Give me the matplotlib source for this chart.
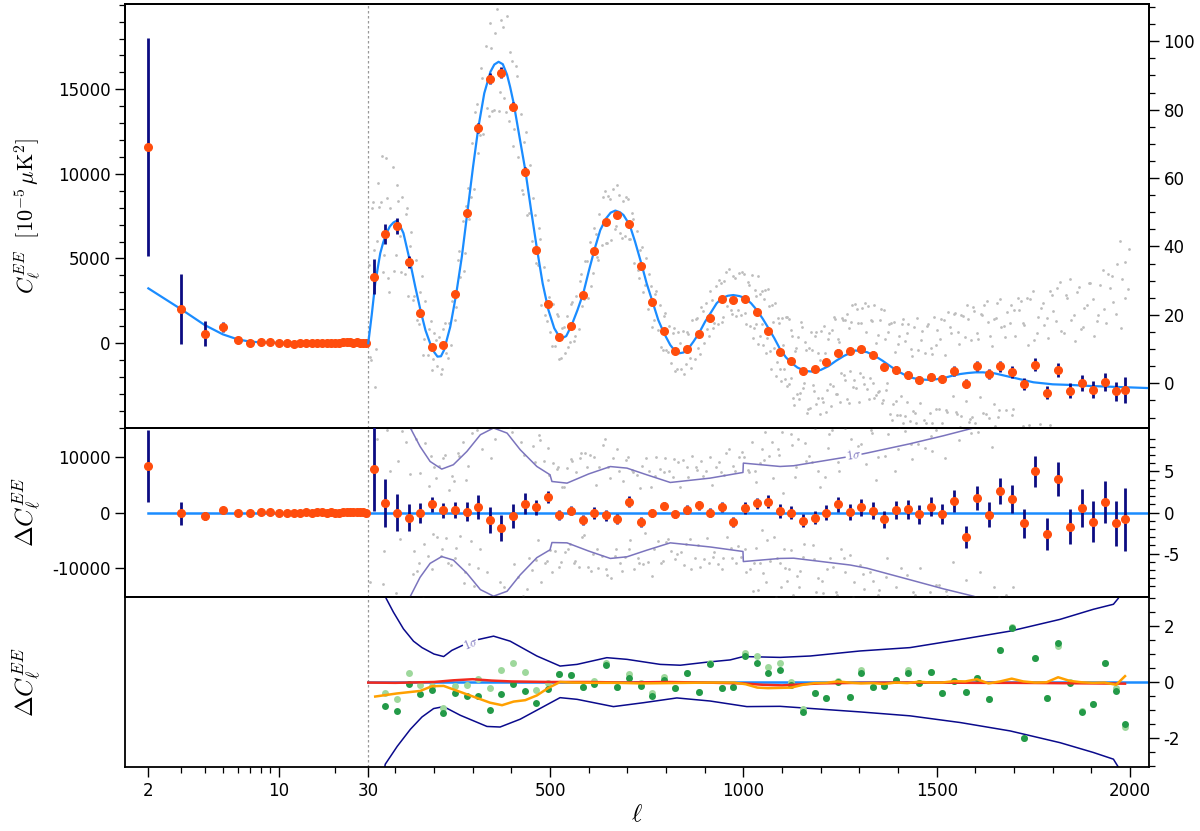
import numpy as np
import matplotlib
matplotlib.use("Agg")
import matplotlib.pyplot as plt
from matplotlib.ticker import FixedLocator, MultipleLocator

plt.rcParams["mathtext.fontset"] = "cm"
plt.rcParams["font.family"] = "DejaVu Sans"
plt.rcParams["font.size"] = 12
plt.rcParams["axes.unicode_minus"] = False

# ---------------- data ----------------
# low multipoles, 2 <= ell < 30, C_ell in 1e-5 muK^2
ell_low = [2, 3, 4, 5, 6, 7, 8, 9, 10, 11, 12, 13, 14, 15, 16, 17, 18, 19,
           20, 21, 22, 23, 24, 25, 26, 27, 28, 29]
cl_low = [11589, 1990, 550, 946, 160, 20, 80, 80, -10, -20, -40, 0, 20, -10,
          10, 20, 0, 20, -20, -20, 40, 30, 30, 20, 30, 20, 10, 0]
cl_low_err = [6430, 2070, 740, 325, 60, 60, 60, 60, 60, 60, 60, 60, 60, 60,
              60, 60, 60, 60, 60, 60, 60, 60, 60, 60, 60, 60, 60, 60]
dcl_low = [8390, -110, -589, 420, -57, -59, 40, 55, -25, -30, -50, -5, 15,
           -15, 5, 15, -5, 15, -25, -25, 35, 25, 25, 15, 25, 15, 5, -5]

mod_low_ell = [2, 3, 4, 5, 6, 7, 8, 9, 10, 12, 15, 20, 25, 30]
mod_low_val = [3230, 1990, 1064, 513, 217, 79, 40, 25, 15, 8, 4, 2, 1, 0]

# high multipoles, binned
bin_ell = [44.5, 74.5, 104.5, 134.5, 164.5, 194.5, 224.5, 254.5, 284.5, 314.5,
           344.5, 374.5, 404.5, 434.5, 464.5, 494.5, 524.5, 554.5, 584.5, 614.5,
           644.5, 674.5, 704.5, 734.5, 764.5, 794.5, 824.5, 854.5, 884.5, 914.5,
           944.5, 974.5, 1004.5, 1034.5, 1064.5, 1094.5, 1124.5, 1154.5, 1184.5,
           1214.5, 1244.5, 1274.5, 1304.5, 1334.5, 1364.5, 1394.5, 1424.5,
           1454.5, 1484.5, 1514.5, 1544.5, 1574.5, 1604.5, 1634.5, 1664.5,
           1694.5, 1724.5, 1754.5, 1784.5, 1814.5, 1844.5, 1874.5, 1904.5,
           1934.5, 1964.5, 1987]
bin_val = [31.1, 43.6, 46.0, 35.5, 20.6, 10.6, 11.2, 26.1, 49.7, 74.6,
           89.1, 90.8, 80.9, 61.9, 39.1, 23.2, 13.6, 16.8, 25.7, 38.7,
           47.3, 49.2, 46.6, 34.3, 23.9, 15.4, 9.4, 10.0, 14.5, 19.2,
           24.6, 24.4, 24.6, 20.9, 15.4, 9.1, 6.6, 3.6, 4.1, 6.2,
           9.0, 9.4, 9.9, 8.4, 4.9, 3.9, 2.4, 1.0, 1.8, 1.3,
           3.6, -0.1, 4.95, 2.7, 5.0, 3.3, -0.3, 5.4, -2.7, 3.8,
           -2.2, 0.0, -1.9, 0.4, -2.3, -1.95]
bin_res = [5.29, 1.14, -0.04, -0.61, -0.04, 0.98, 0.25, 0.33, 0.12, 0.69,
           -0.93, -1.91, -0.45, 1.06, 0.61, 1.88, -0.28, 0.2, -0.93, -0.08,
           -0.33, -0.81, 1.34, -1.18, -0.08, 0.82, -0.24, 0.33, 0.86, -0.04,
           0.69, -1.13, 0.53, 1.14, 1.34, 0.2, -0.04, -1.01, -0.61, 0.0,
           0.98, 0.08, 0.65, 0.2, -0.85, 0.25, 0.41, -0.24, 0.73, -0.2,
           1.43, -3.0, 1.75, -0.28, 2.64, 1.63, -1.34, 5.0, -2.64, 4.07,
           -1.71, 0.57, -1.1, 1.3, -1.34, -0.85]
bin_err = [5.1, 2.95, 2.24, 1.67, 1.22, 0.94, 0.94, 1.0, 1.2, 1.46,
           1.58, 1.57, 1.43, 1.26, 0.87, 0.71, 0.61, 0.55, 0.6, 0.73,
           0.67, 0.63, 0.67, 0.6, 0.52, 0.52, 0.47, 0.55, 0.5, 0.56,
           0.58, 0.6, 0.7, 0.67, 0.81, 0.82, 0.81, 0.78, 0.85, 0.87,
           0.94, 0.95, 1.02, 1.02, 1.06, 1.1, 1.16, 1.18, 1.19, 1.24,
           1.35, 1.38, 1.5, 1.53, 1.6, 1.7, 1.77, 1.86, 1.97, 2.07,
           2.15, 2.3, 2.45, 2.58, 2.77, 3.86]

# best-fit model, ell >= 30
mod_ell = [30, 39, 48, 55, 61, 69, 77, 86, 95, 103, 110, 121, 137, 152, 166,
           178, 190, 200, 209, 218, 226, 242, 257, 272, 286, 301, 315, 330, 346,
           356, 367, 378, 389, 397, 406, 421, 436, 451, 466, 481, 496, 511, 521,
           531, 542, 556, 571, 586, 601, 616, 630, 645, 657, 669, 681, 690, 706,
           720, 736, 750, 765, 780, 795, 811, 823, 835, 845, 855, 871, 885, 901,
           915, 931, 945, 960, 974, 990, 1005, 1020, 1035, 1050, 1065, 1080, 1094,
           1110, 1124, 1140, 1160, 1180, 1200, 1220, 1240, 1260, 1290, 1320, 1340,
           1360, 1380, 1400, 1420, 1440, 1460, 1480, 1500, 1520, 1540, 1560, 1580,
           1600, 1620, 1650, 1700, 1750, 1800, 1850, 1900, 1950, 2000, 2049]
mod_val = [11.7, 20.0, 29.2, 34.0, 38.0, 41.3, 43.9, 45.9, 47.0, 47.5, 46.6,
           43.9, 36.1, 28.0, 20.9, 15.5, 11.7, 9.2, 7.8, 7.9, 9.7, 16.5, 25.8,
           37.0, 49.7, 63.3, 75.0, 84.8, 91.1, 93.2, 94.0, 93.3, 90.2, 86.6, 81.9,
           72.1, 62.4, 50.7, 39.5, 29.2, 21.4, 16.1, 14.2, 13.2, 13.8, 17.0, 21.4,
           26.3, 33.1, 39.5, 44.8, 48.2, 49.9, 50.5, 50.0, 49.2, 46.3, 41.4, 35.1,
           29.2, 23.9, 18.5, 14.6, 11.2, 9.5, 8.8, 9.0, 9.7, 12.2, 14.6, 18.0,
           20.5, 23.4, 24.9, 25.6, 25.8, 25.5, 24.9, 23.4, 21.4, 18.9, 16.1, 13.2,
           10.2, 7.6, 6.0, 4.6, 3.6, 3.4, 3.9, 5.0, 6.6, 8.0, 9.6, 9.1, 8.0, 6.6,
           5.0, 3.5, 2.3, 1.5, 1.1, 1.0, 1.2, 1.6, 2.2, 2.7, 3.0, 3.2, 3.2, 2.9,
           1.6, 0.3, -0.3, -0.5, -0.8, -1.0, -1.2, -1.4]

# unbinned spectrum, residuals w.r.t. the model
scat_ell = [33, 38, 43, 48, 53, 58, 63, 69, 75, 81, 87,
            94, 101, 108, 115, 124, 131, 138, 145, 154, 161, 168, 175,
            184, 191, 198, 205, 214, 221, 228, 235, 244, 251, 258, 265,
            274, 281, 288, 295, 304, 311, 318, 325, 334, 341, 348, 355,
            364, 371, 378, 385, 394, 401, 408, 415, 424, 431, 438, 445,
            454, 461, 468, 475, 484, 491, 498, 505, 514, 521, 528, 535,
            544, 551, 558, 565, 574, 581, 588, 595, 604, 611, 618, 625,
            634, 641, 648, 655, 664, 671, 678, 685, 694, 701, 708, 715,
            724, 731, 738, 745, 754, 761, 768, 775, 784, 791, 798, 805,
            814, 821, 828, 835, 844, 851, 858, 865, 874, 881, 888, 895,
            904, 911, 918, 925, 934, 941, 948, 955, 964, 971, 978, 985,
            994, 1001, 1008, 1015,
            1022, 1027, 1032, 1037, 1042, 1047, 1052, 1057, 1062, 1067, 1072, 1077,
            1082, 1087, 1092, 1097, 1102, 1107, 1112, 1117, 1122, 1127, 1132, 1137,
            1142, 1147, 1152, 1157, 1162, 1167, 1172, 1177, 1182, 1187, 1192, 1197,
            1202, 1207, 1212, 1217, 1222, 1227, 1232, 1237, 1242, 1247, 1252, 1257,
            1262, 1267, 1272, 1277, 1282, 1287, 1292, 1297, 1302, 1307, 1312, 1317,
            1322, 1327, 1332, 1337, 1342, 1347, 1352, 1357, 1362, 1367, 1372, 1377,
            1382, 1387, 1392, 1397, 1402, 1407, 1412, 1417, 1422, 1427, 1432, 1437,
            1442, 1447, 1452, 1457, 1462, 1467, 1472, 1477, 1482, 1487, 1492, 1497,
            1502, 1507, 1512, 1517, 1522, 1527, 1532, 1537, 1542, 1547, 1552, 1557,
            1562, 1567, 1572, 1577, 1582, 1587, 1592, 1597, 1602, 1607, 1612, 1617,
            1622, 1627, 1632, 1637, 1642, 1647, 1652, 1657, 1662, 1667, 1672, 1677,
            1682, 1687, 1692, 1697, 1702, 1707, 1712, 1717, 1722, 1727, 1732, 1737,
            1742, 1747, 1752, 1757, 1762, 1767, 1772, 1777, 1782, 1787, 1792, 1797,
            1802, 1807, 1812, 1817, 1822, 1827, 1832, 1837, 1842, 1847, 1852, 1857,
            1862, 1867, 1872, 1877, 1882, 1887, 1892, 1897, 1902, 1907, 1912, 1917,
            1922, 1927, 1932, 1937, 1942, 1947, 1952, 1957, 1962, 1967, 1972, 1977,
            1980, 1984, 1988, 1992, 1996, 2000,
            # second pass through the cloud
            35, 40, 45, 50, 56, 66, 72, 78, 84,
            97, 104, 111, 118, 127, 134, 141, 148, 157, 164, 171, 178,
            187, 194, 201, 208, 217, 224, 231, 238, 247, 254, 261, 268,
            277, 284, 291, 298, 307, 314, 321, 328, 337, 344, 351, 358,
            367, 374, 381, 388, 397, 404, 411, 418, 427, 434, 441, 448,
            457, 464, 471, 478, 487, 494, 501, 508, 517, 524, 531, 538,
            547, 554, 561, 568, 577, 584, 591, 598, 607, 614, 621, 628,
            637, 644, 651, 658, 667, 674, 681, 688, 697, 704, 711, 718,
            727, 734, 741, 748, 757, 764, 771, 778, 787, 794, 801, 808,
            817, 824, 831, 838, 847, 854, 861, 868, 877, 884, 891, 898,
            907, 914, 921, 928, 937, 944, 951, 958, 967, 974, 981, 988,
            997, 1004, 1011, 1018,
            1024, 1029, 1034, 1039, 1044, 1049, 1054, 1059, 1064, 1069, 1074, 1079,
            1084, 1089, 1094, 1099, 1104, 1109, 1114, 1119, 1124, 1129, 1134, 1139,
            1144, 1149, 1154, 1159, 1164, 1169, 1174, 1179, 1184, 1189, 1194, 1199,
            1204, 1209, 1214, 1219, 1224, 1229, 1234, 1239, 1244, 1249, 1254, 1259,
            1264, 1269, 1274, 1279, 1284, 1289, 1294, 1299, 1304, 1309, 1314, 1319,
            1324, 1329, 1334, 1339, 1344, 1349, 1354, 1359, 1364, 1369, 1374, 1379,
            1384, 1389, 1394, 1399, 1404, 1409, 1414, 1419, 1424, 1429, 1434, 1439,
            1444, 1449, 1454, 1459, 1464, 1469, 1474, 1479, 1484, 1489, 1494, 1499,
            1504, 1509, 1514, 1519, 1524, 1529, 1534, 1539, 1544, 1549, 1554, 1559,
            1564, 1569, 1574, 1579, 1584, 1589, 1594, 1599, 1604, 1609, 1614, 1619,
            1624, 1629, 1634, 1639, 1644, 1649, 1654, 1659, 1664, 1669, 1674, 1679,
            1684, 1689, 1694, 1699, 1704, 1709, 1714, 1719, 1724, 1729, 1734, 1739,
            1744, 1749, 1754, 1759, 1764, 1769, 1774, 1779, 1784, 1789, 1794, 1799,
            1804, 1809, 1814, 1819, 1824, 1829, 1834, 1839, 1844, 1849, 1854, 1859,
            1864, 1869, 1874, 1879, 1884, 1889, 1894, 1899, 1904, 1909, 1914, 1919,
            1924, 1929, 1934, 1939, 1944, 1949, 1954, 1959, 1964, 1969, 1974, 1979,
            1982, 1986, 1990, 1994, 1998]
scat_res = [20.1, -12.4, 28.8, -30.3, 8.9, 15.6, 14.2, -8.7, 22.5, -14.0, 5.1,
            16.4, -9.8, 6.3, -12.9, -10.6, 12.2, 4.7, -7.5, 9.0, -6.1, 11.4, -3.8,
            -5.3, 6.9, -2.6, 4.2, 5.7, -4.5, 7.0, -6.1, -6.4, 3.8, -4.3, 6.9,
            8.6, -7.2, 5.7, -3.5, -9.0, 10.1, -4.4, 7.8, 12.3, -10.9, 6.6, -13.2,
            15.7, -8.5, 11.0, -12.1, -11.4, 9.8, -6.3, 13.9, 8.6, -10.2, 12.7, -5.5,
            -7.0, 6.1, -3.4, 8.8, 6.3, -5.9, 4.6, -7.2, -4.7, 5.5, -6.0, 3.1,
            5.4, -3.8, 6.3, -5.9, -6.6, 7.2, -2.7, 5.5, 7.0, -5.1, 3.4, -6.8,
            -5.3, 8.9, -7.6, 4.2, 6.7, -4.5, 5.0, -7.1, -5.4, 6.8, -3.3, 4.9,
            4.6, -6.2, 5.7, -2.5, -6.0, 3.1, -4.4, 6.8, 5.3, -5.9, 6.6, -3.2,
            -4.7, 6.5, -5.0, 3.1, 6.4, -3.8, 4.3, -6.9, -5.6, 5.2, -6.7, 4.5,
            5.0, -6.1, 3.4, -4.8, -6.3, 4.9, -5.6, 7.2, 7.7, -5.5, 5.0, -4.1,
            -5.4, 6.8, -7.3, 4.9,
            8.6, -6.2, 3.7, -9.5, 6.0, -2.1, -7.4, 9.8, -3.3, 6.9, -10.6, 4.2,
            10.7, -5.5, 7.0, -9.1, 2.4, -6.8, -8.3, 11.9, -4.6, 8.2, -11.7, 5.5,
            9.0, -7.1, 12.4, -3.8, 6.3, -10.9, -10.6, 6.2, -5.7, 11.5, -8.0, 3.1,
            11.4, -9.8, 4.3, -6.9, 9.6, -12.2, -6.7, 12.5, -10.0, 5.1, -4.4, 10.8,
            10.3, -12.9, 7.6, -5.2, 13.7, -8.5, -11.0, 8.1, -6.4, 12.8, -9.3, 5.9,
            13.6, -7.2, 9.7, -12.5, 4.0, -10.1, -9.4, 14.8, -11.3, 6.9, -5.6, 12.2,
            12.7, -10.5, 5.0, -13.1, 10.4, -6.8, -14.3, 9.9, -7.6, 15.2, -12.7, 6.5,
            15.0, -13.1, 8.4, -6.8, 14.3, -11.9, -12.6, 16.2, -9.7, 7.5, -15.0, 10.1,
            14.4, -8.8, 17.3, -14.9, 6.6, -10.2, -16.7, 12.5, -6.0, 18.1, -11.4, 8.8,
            17.3, -15.9, 10.6, -8.2, 15.7, -13.5, -13.0, 18.1, -16.4, 9.8, -7.3, 16.9,
            19.6, -12.2, 14.7, -17.5, 8.0, -9.1, -15.4, 20.8, -10.3, 13.9, -18.6, 11.2,
            18.7, -17.5, 21.0, -9.1, 12.4, -14.8, -18.3, 22.9, -13.6, 16.2, -20.7, 10.5,
            24.0, -16.1, 12.4, -21.8, 19.3, -11.9, -20.6, 17.2, -24.7, 13.5, -12.0, 26.1,
            21.4, -19.8, 28.3, -14.9, 15.6, -22.2, -23.7, 25.5, -15.0, 19.1, -26.4, 12.8,
            27.3, -21.9, 16.6, -25.2, 22.7, -13.5, -24.0, 30.1, -18.4, 14.8, -27.3, 20.9,
            29.6, -26.2, 22.7, -17.5, 33.0, -20.1, -28.4, 24.8, -19.3, 35.9, -23.6, 17.2,
            31.7, -27.5, 26.0, -22.1, 40.4, -18.8,
            # second pass
            -8.5, 30.2, 12.9, -20.6, 24.0, 26.3, -4.7, 10.1, -18.8,
            -14.4, 10.5, -3.2, 9.9, 8.6, -12.0, 10.3, -4.7, -7.1, 4.8, -10.4, 8.5,
            3.2, -6.9, 5.6, -3.0, -5.3, 6.7, -3.1, 2.8, 4.4, -5.5, 7.2, -2.9,
            -8.6, 4.0, -6.3, 9.7, 11.1, -6.8, 13.4, -10.5, -7.2, 14.9, -12.6, 9.0,
            -14.3, 12.7, -9.1, 16.8, 10.4, -13.5, 14.2, -7.9, -11.6, 7.0, -9.3, 10.7,
            8.1, -5.8, 9.4, -8.5, -6.2, 7.9, -4.6, 6.0, 5.3, -6.7, 3.1, -4.8,
            -4.4, 6.5, -6.2, 4.9, 6.6, -3.0, 7.3, -6.7, -7.1, 6.8, -4.4, 5.5,
            8.2, -6.9, 5.6, -8.0, -5.3, 7.7, -6.1, 3.8, 6.4, -4.5, 5.2, -6.9,
            -5.6, 3.0, -6.3, 6.7, 5.1, -7.8, 4.4, -3.5, -6.2, 4.9, -3.6, 5.0,
            4.3, -5.7, 6.1, -4.8, -6.4, 5.5, -3.2, 6.9, 5.6, -4.0, 6.3, -5.7,
            -3.1, 6.8, -5.4, 5.5, 6.2, -6.9, 4.6, -3.0, -4.3, 5.7, -6.1, 6.8,
            7.4, -4.5, 5.2, -6.9,
            -9.6, 5.0, -4.3, 10.7, -6.1, 7.8, 6.4, -8.5, 11.2, -5.9, 8.6, -3.0,
            -10.3, 7.7, -6.1, 9.8, -4.4, 11.5, 12.2, -6.9, 9.6, -10.0, 4.3, -7.7,
            -9.1, 13.8, -5.4, 8.5, -12.2, 6.9, 11.6, -4.0, 10.3, -9.7, 5.1, -12.8,
            -8.4, 12.5, -13.2, 7.9, -5.6, 10.0, 13.3, -9.7, 6.1, -12.8, 11.4, -5.5,
            -7.2, 11.9, -14.6, 9.0, -10.3, 13.7, 12.1, -14.8, 8.4, -7.5, 14.2, -10.9,
            -13.6, 10.0, -8.3, 14.7, -11.1, 6.8, 11.4, -12.5, 15.2, -7.9, 9.6, -14.0,
            -15.3, 13.7, -9.1, 7.8, -12.4, 14.5, 16.2, -11.9, 12.6, -15.0, 8.3, -9.7,
            -10.1, 17.8, -14.4, 11.5, -16.2, 7.9, 15.6, -16.0, 9.3, -12.7, 18.1, -8.8,
            -17.4, 11.5, -13.2, 16.9, -9.6, 19.0, 14.3, -19.7, 18.1, -10.8, 12.4, -15.5,
            -12.2, 16.9, -18.6, 20.0, -14.3, 9.7, 19.1, -14.8, 11.4, -20.5, 17.2, -11.9,
            -18.6, 21.0, -13.3, 10.7, -16.1, 15.8, 16.4, -12.5, 22.2, -19.9, 14.6, -10.0,
            -21.3, 15.7, -11.1, 19.8, -17.4, 23.5, 20.2, -23.9, 16.6, -14.0, 24.3, -12.7,
            -17.1, 26.8, -22.4, 14.5, -19.2, 21.9, 23.6, -15.0, 19.3, -25.7, 27.1, -13.8,
            -24.4, 18.5, -17.2, 29.9, -21.6, 15.0, 26.3, -20.7, 31.1, -16.8, 20.4, -27.5,
            -19.2, 28.9, -24.6, 17.0, -30.3, 23.7, 30.1, -22.8, 25.4, -31.5, 19.2, -16.9,
            -27.6, 34.0, -21.3, 18.7, -24.1, 28.8, 32.4, -25.5, 21.2, -30.9, 42.6, -20.0,
            -25.3, 36.7, -20.1, 28.8, -30.4]

# residuals of other data sets (bottom panel), bins 1..65
grn_ell = bin_ell[1:]
grn_dark = [-0.87, -1.05, -0.06, -0.42, -0.27, -1.1, -0.40, -0.51, -0.5, -0.99,
            -0.43, -0.06, -0.31, -0.75, -0.26, 0.29, 0.25, -0.19, -0.08, 0.61,
            -0.19, 0.16, -0.14, -0.51, 0.07, -0.23, 0.31, -0.34, 0.63, -0.21,
            -0.19, 0.92, 0.68, 0.32, 0.44, -0.12, -1.06, -0.39, -0.58, 0.01,
            -0.52, 0.33, -0.18, -0.15, 0.07, 0.32, -0.05, 0.36, -0.40, 0.02,
            -0.34, 0.16, -0.61, 1.14, 1.93, -1.99, 0.87, -0.59, 1.39, -0.04,
            -1.08, -0.79, 0.68, -0.33, -1.5]
grn_light = [-0.41, -0.62, 0.31, -0.11, -0.14, -0.93, -0.15, -0.1, 0.1, -0.21,
             0.42, 0.68, 0.36, -0.3, -0.02, 0.29, 0.25, -0.19, 0.02, 0.69,
             -0.19, 0.29, -0.02, -0.41, 0.17, -0.23, 0.31, -0.34, 0.69, -0.21,
             -0.19, 1.05, 0.93, 0.55, 0.67, 0.01, -0.97, -0.39, -0.58, 0.05,
             -0.52, 0.43, -0.18, -0.15, 0.07, 0.42, -0.05, 0.36, -0.40, 0.02,
             -0.34, 0.16, -0.61, 1.14, 1.96, -1.99, 0.87, -0.59, 1.3, 0.0,
             -1.05, -0.79, 0.68, -0.23, -1.62]

org_ell = [48, 104, 164, 195, 225, 285, 345, 376, 406, 436, 466, 496, 526, 556,
           616, 676, 736, 796, 856, 916, 976, 1006, 1036, 1064, 1094, 1124, 1154,
           1184, 1214, 1244, 1274, 1304, 1334, 1364, 1394, 1424, 1454, 1484, 1514,
           1544, 1574, 1604, 1634, 1664, 1694, 1724, 1754, 1784, 1814, 1844, 1874,
           1904, 1934, 1964, 1987]
org_val = [-0.52, -0.41, -0.32, -0.15, -0.14, -0.44, -0.74, -0.83, -0.7, -0.65,
           -0.48, -0.21, 0.0, -0.02, -0.03, -0.03, -0.05, -0.04, -0.03, -0.02,
           -0.02, -0.08, -0.2, -0.22, -0.21, -0.2, -0.1, -0.04, -0.03, 0.02,
           -0.02, -0.05, -0.04, -0.07, -0.02, -0.04, 0.01, -0.02, -0.02, 0.03,
           0.02, 0.1, -0.05, 0.02, 0.12, 0.02, -0.02, -0.01, 0.17, 0.04, -0.01,
           -0.03, -0.02, -0.1, 0.21]

red_ell = [30, 100, 200, 250, 300, 350, 400, 500, 600, 700, 800, 900, 1000,
           1050, 1100, 1200, 1300, 1400, 1500, 1600, 1700, 1800, 1900, 1987]
red_val = [-0.02, -0.03, 0.0, 0.06, 0.1, 0.05, 0.02, 0.0, 0.0, -0.02, 0.0, -0.02,
           -0.05, -0.1, -0.12, -0.05, -0.03, -0.02, -0.02, -0.03, -0.03, -0.04,
           -0.05, -0.06]

# 1 sigma contours
sig3_up_ell = [60, 74, 95, 121, 147, 169, 200, 225, 246, 280, 315, 354, 397, 466,
               526, 570, 647, 699, 785, 837, 906, 966, 1000, 1095, 1173, 1302,
               1431, 1561, 1690, 1819, 1905, 1957, 1970, 1975]
sig3_up_val = [4.0, 3.05, 2.5, 1.9, 1.46, 1.23, 1.0, 0.91, 1.13, 1.35, 1.52, 1.64,
               1.46, 0.93, 0.57, 0.63, 0.87, 0.81, 0.63, 0.60, 0.71, 0.79, 0.91,
               0.88, 0.93, 1.11, 1.23, 1.52, 1.82, 2.24, 2.6, 2.78, 3.0, 4.0]
sig3_lo_ell = [60, 74, 105, 139, 169, 199, 225, 268, 337, 371, 423, 526, 570, 664,
               742, 828, 914, 1009, 1095, 1302, 1431, 1561, 1690, 1819, 1905,
               1957, 1970, 1975]
sig3_lo_val = [-4.0, -2.94, -2.3, -1.69, -1.25, -0.95, -0.88, -1.19, -1.59, -1.61,
               -1.33, -0.56, -0.62, -0.88, -0.74, -0.57, -0.68, -0.88, -0.87,
               -1.07, -1.21, -1.45, -1.75, -2.17, -2.52, -2.76, -3.05, -4.0]

sig2_ell = [100, 139, 164, 190, 220, 250, 285, 320, 354, 389, 423, 466, 500, 505,
            544, 600, 656, 699, 750, 811, 914, 999, 1000, 1095, 1130, 1276, 1319,
            1431, 1517, 1595, 1700, 1800, 1900, 2000, 2049]
sig2_up = [16, 10.3, 8.05, 6.22, 5.29, 5.82, 7.44, 9.48, 10.3, 9.68, 7.65, 5.61,
           4.6, 3.78, 3.58, 4.7, 5.6, 5.41, 4.6, 3.66, 4.19, 4.88, 6.02, 5.61, 5.7,
           6.83, 7.24, 8.38, 9.35, 10.3, 12, 14, 16, 18, 19]
sig2_lo = [-16, -10.2, -7.9, -6.2, -5.37, -5.8, -7.4, -9.4, -10.2, -9.6, -7.6,
           -5.5, -4.55, -3.66, -3.7, -4.7, -5.6, -5.4, -4.6, -3.7, -4.2, -4.75,
           -5.98, -5.6, -5.57, -6.4, -6.78, -8.2, -9.3, -10.2, -12, -14, -16, -18,
           -19]

# ---------------- styles ----------------
C_PT = "#ff4d0d"
C_ERR = "#0c0c82"
C_MOD = "#1a8cff"
C_GRAY = "#bdbdbd"
C_SIG2 = "#7b74bd"
C_SIG3 = "#0a0a8c"
C_GDARK = "#239a48"
C_GLIGHT = "#9ed89c"
C_ORG = "#ffa000"
C_RED = "#f22a1e"

A_LOG = 483.5


def fwd(l):
    l = np.asarray(l, dtype=float)
    lo = 30 + A_LOG * np.log10(np.clip(l, 1e-6, None) / 30.0)
    return np.where(l >= 30, l, lo)


def inv(x):
    x = np.asarray(x, dtype=float)
    lo = 30 * 10 ** ((np.clip(x, -5000, 30) - 30) / A_LOG)
    return np.where(x >= 30, x, lo)


def setup_x(ax, labels=False):
    ax.set_xscale("function", functions=(fwd, inv))
    ax.set_xlim(1.5, 2049)
    ax.xaxis.set_major_locator(FixedLocator([2, 10, 30, 500, 1000, 1500, 2000]))
    ax.xaxis.set_minor_locator(FixedLocator(
        [3, 4, 5, 6, 7, 8, 9, 20, 100, 200, 300, 400, 600, 700, 800, 900,
         1100, 1200, 1300, 1400, 1600, 1700, 1800, 1900]))
    ax.set_xticklabels(["2", "10", "30", "500", "1000", "1500", "2000"])
    if not labels:
        ax.tick_params(axis="x", which="both", bottom=False, labelbottom=False)
    ax.axvline(30, color="0.6", ls=(0, (2, 2)), lw=0.9, zorder=1)


def style(ax):
    ax.tick_params(which="major", direction="out", length=7, width=1.0,
                   labelsize=12)
    ax.tick_params(which="minor", direction="out", length=4, width=0.9)
    for sp in ax.spines.values():
        sp.set_linewidth(1.3)


fig = plt.figure(figsize=(12, 8.31), dpi=100)
L, W = 125 / 1200, 1024 / 1200
ax1 = fig.add_axes([L, 403 / 831, W, 424 / 831])
ax2 = fig.add_axes([L, 234 / 831, W, 169 / 831])
ax3 = fig.add_axes([L, 64 / 831, W, 170 / 831])

scat_top = np.interp(scat_ell, mod_ell, mod_val) + np.array(scat_res)

# ---- top panel ----
setup_x(ax1)
ax1r = ax1.twinx()
ax1.set_ylim(-5026, 20044)
ax1r.set_ylim(-13.07, 110.9)
ax1.yaxis.set_major_locator(FixedLocator([0, 5000, 10000, 15000]))
ax1.yaxis.set_minor_locator(MultipleLocator(1000))
ax1r.yaxis.set_major_locator(MultipleLocator(20))
ax1r.yaxis.set_minor_locator(MultipleLocator(5))
ax1.plot(mod_low_ell, mod_low_val, color=C_MOD, lw=1.6, zorder=2)
ax1.errorbar(ell_low, cl_low, yerr=cl_low_err, fmt="o", color=C_PT, ms=5.5,
             ecolor=C_ERR, elinewidth=2, capsize=0, zorder=3)
ax1r.plot(scat_ell, scat_top, "o", color=C_GRAY, ms=2.0, mec="none", zorder=1)
ax1r.plot(mod_ell, mod_val, color=C_MOD, lw=1.6, zorder=2)
ax1r.errorbar(bin_ell, bin_val, yerr=bin_err, fmt="o", color=C_PT, ms=5.5,
              ecolor=C_ERR, elinewidth=2, capsize=0, zorder=3)
ax1.set_ylabel(r"$C_\ell^{EE}\ \ [10^{-5}\,\mu{\rm K}^2]$", fontsize=16)
ax1.yaxis.set_label_coords(-0.08, 0.5)
style(ax1)
style(ax1r)

# ---- middle panel ----
setup_x(ax2)
ax2r = ax2.twinx()
ax2.set_ylim(-15100, 15100)
ax2r.set_ylim(-10.3, 10.3)
ax2.yaxis.set_major_locator(FixedLocator([-10000, 0, 10000]))
ax2r.yaxis.set_major_locator(FixedLocator([-5, 0, 5]))
ax2r.yaxis.set_minor_locator(FixedLocator([-9, -8, -7, -6, -4, -3, -2, -1,
                                           1, 2, 3, 4, 6, 7, 8, 9]))
ax2.plot([2, 2049], [0, 0], color=C_MOD, lw=1.8, zorder=2)
ax2.errorbar(ell_low, dcl_low, yerr=cl_low_err, fmt="o", color=C_PT, ms=5.5,
             ecolor=C_ERR, elinewidth=2, capsize=0, zorder=3)
ax2r.plot(scat_ell, scat_res, "o", color=C_GRAY, ms=2.0, mec="none", zorder=1)
ax2r.plot(sig2_ell, sig2_up, color=C_SIG2, lw=1.1, zorder=2)
ax2r.plot(sig2_ell, sig2_lo, color=C_SIG2, lw=1.1, zorder=2)
ax2r.text(1285, 6.95, r"$1\sigma$", color=C_SIG2, fontsize=9, rotation=8,
          ha="center", va="center", zorder=3,
          bbox=dict(fc="white", ec="none", pad=0.3))
ax2r.errorbar(bin_ell, bin_res, yerr=bin_err, fmt="o", color=C_PT, ms=5.5,
              ecolor=C_ERR, elinewidth=2, capsize=0, zorder=4)
ax2.set_ylabel(r"$\Delta C_\ell^{EE}$", fontsize=18)
ax2.yaxis.set_label_coords(-0.08, 0.5)
style(ax2)
style(ax2r)

# ---- bottom panel ----
setup_x(ax3, labels=True)
ax3.set_ylim(-3.04, 3.04)
ax3.yaxis.tick_right()
ax3.yaxis.set_label_position("left")
ax3.yaxis.set_major_locator(FixedLocator([-2, 0, 2]))
ax3.yaxis.set_minor_locator(MultipleLocator(0.5))
ax3.plot([30, 2049], [0, 0], color=C_MOD, lw=1.8, zorder=2)
ax3.plot(sig3_up_ell, sig3_up_val, color=C_SIG3, lw=1.1, zorder=2)
ax3.plot(sig3_lo_ell, sig3_lo_val, color=C_SIG3, lw=1.1, zorder=2)
ax3.text(296, 1.36, r"$1\sigma$", color=C_SIG2, fontsize=9, rotation=22,
         ha="center", va="center", zorder=3,
         bbox=dict(fc="white", ec="none", pad=0.3))
ax3.plot(grn_ell, grn_light, "o", color=C_GLIGHT, ms=5, mec="none", zorder=3)
ax3.plot(grn_ell, grn_dark, "o", color=C_GDARK, ms=5, mec="none", zorder=4)
ax3.plot(red_ell, red_val, color=C_RED, lw=1.8, zorder=5)
ax3.plot(org_ell, org_val, color=C_ORG, lw=1.8, zorder=6)
ax3.set_ylabel(r"$\Delta C_\ell^{EE}$", fontsize=18)
ax3.yaxis.set_label_coords(-0.08, 0.5)
ax3.set_xlabel(r"$\ell$", fontsize=18, labelpad=2)
style(ax3)
ax3.tick_params(axis="y", which="both", left=False, right=True)

fig.savefig("out.png", dpi=100)
